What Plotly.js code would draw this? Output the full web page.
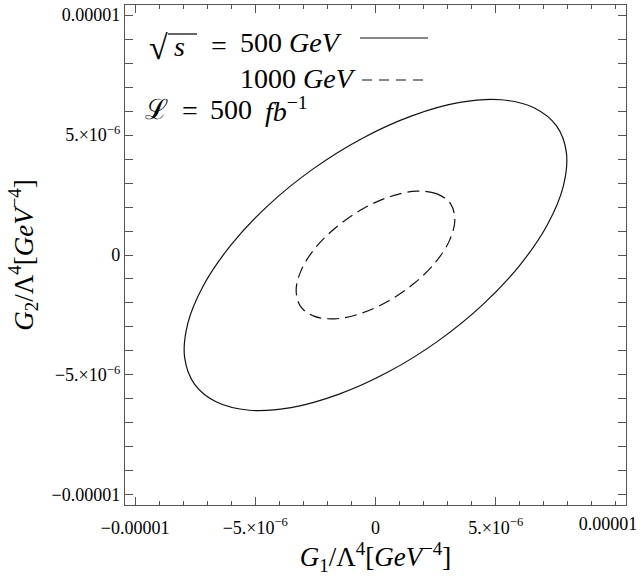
<!DOCTYPE html>
<html>
<head>
<meta charset="utf-8">
<script src="https://cdn.plot.ly/plotly-3.0.1.min.js"></script>
<style>html,body{margin:0;padding:0;background:#fff;}#chart{width:644px;height:576px;}</style>
</head>
<body>
<div id="chart"></div>
<script>
// Contour for sqrt(s) = 500 GeV (units of 1e-6 GeV^-4)
const g1_500 = [7.53, 6.61, 5.24, 3.51, 1.54, -0.54, -2.58, -4.44, -6.00, -7.15, -7.81, -7.94, -7.53, -6.61, -5.24, -3.51, -1.54, 0.54, 2.58, 4.44, 6.00, 7.15, 7.81, 7.94, 7.53];
const g2_500 = [5.38, 6.13, 6.47, 6.36, 5.81, 4.87, 3.60, 2.09, 0.43, -1.26, -2.86, -4.27, -5.38, -6.13, -6.47, -6.36, -5.81, -4.87, -3.60, -2.09, -0.43, 1.26, 2.86, 4.27, 5.38];
// Contour for sqrt(s) = 1000 GeV
const g1_1000 = [3.12, 2.56, 1.70, 0.62, -0.52, -1.61, -2.50, -3.09, -3.30, -3.12, -2.56, -1.70, -0.62, 0.52, 1.61, 2.50, 3.09, 3.30, 3.12];
const g2_1000 = [2.14, 2.55, 2.66, 2.44, 1.93, 1.18, 0.30, -0.63, -1.47, -2.14, -2.55, -2.66, -2.44, -1.93, -1.18, -0.30, 0.63, 1.47, 2.14];
const scale = 1e-6;

const tickVals = [-1e-5, -5e-6, 0, 5e-6, 1e-5];
const tickText = ["\u22120.00001", "\u22125.\u00d710<sup>\u22126</sup>", "0", "5.\u00d710<sup>\u22126</sup>", "0.00001"];
const axisRange = [-1.042e-5, 1.042e-5];

const serif = "'Liberation Serif', 'Times New Roman', 'DejaVu Serif', serif";

const traces = [
  {x: g1_500.map(v => v*scale), y: g2_500.map(v => v*scale), mode: 'lines',
   line: {color: '#111', width: 1.2, shape: 'spline', smoothing: 1}, hoverinfo: 'skip', showlegend: false},
  {x: g1_1000.map(v => v*scale), y: g2_1000.map(v => v*scale), mode: 'lines',
   line: {color: '#111', width: 1.2, shape: 'spline', smoothing: 1, dash: '12px,6px'}, hoverinfo: 'skip', showlegend: false},
  // empty carrier so that the overlay axis holding the last x label is drawn
  {x: [], y: [], xaxis: 'x2', yaxis: 'y', mode: 'lines', hoverinfo: 'skip', showlegend: false}
];

const tickFont = {family: serif, size: 18, color: '#000'};
function axis(vals, text, titleText, standoff) {
  return {
    range: axisRange, autorange: false,
    tickmode: 'array', tickvals: vals, ticktext: text,
    ticks: 'inside', ticklen: 8, tickwidth: 1, tickcolor: '#555',
    minor: {tickmode: 'linear', tick0: 0, dtick: 1e-6, ticks: 'inside', ticklen: 4, tickwidth: 1, tickcolor: '#555'},
    showline: true, linecolor: '#555', linewidth: 1.2, mirror: 'allticks',
    showgrid: false, zeroline: false, ticklabeloverflow: 'allow',
    tickfont: tickFont,
    title: {text: titleText, font: {family: serif, size: 27, color: '#000'}, standoff: standoff},
    automargin: false
  };
}

const px = (p) => (p - 125) / 501;
const py = (p) => (505 - p) / 500;
const legFont = {family: serif, size: 28, color: '#000'};
function note(x, y, text, font) {
  return {xref: 'paper', yref: 'paper', x: px(x), y: py(y), xanchor: 'left', yanchor: 'middle', showarrow: false, text: text, font: font || legFont};
}

const layout = {
  width: 644, height: 576,
  margin: {l: 125, r: 18, t: 5, b: 71},
  paper_bgcolor: '#fff', plot_bgcolor: '#fff',
  showlegend: false,
  xaxis: Object.assign(axis(tickVals.slice(0, 4), tickText.slice(0, 4), '\u00a0\u00a0\u00a0<i>G</i><sub>1</sub>/\u039b<sup>4</sup>[<i>GeV</i><sup>\u22124</sup>]', 4), {ticklabelstandoff: 6}),
  // last x tick label sits pulled inwards, as in the reference
  xaxis2: {overlaying: 'x', anchor: 'y', side: 'bottom', range: axisRange, autorange: false,
    tickmode: 'array', tickvals: tickVals.slice(4), ticktext: tickText.slice(4),
    ticks: '', showline: false, showgrid: false, zeroline: false, ticklabelstandoff: 6, ticklabelshift: -8,
    ticklabeloverflow: 'allow', tickfont: tickFont},
  yaxis: Object.assign(axis(tickVals, tickText, '<i>G</i><sub>2</sub>/\u039b<sup>4</sup>[<i>GeV</i><sup>\u22124</sup>]', 10), {ticklabelstandoff: 0}),
  annotations: [
    note(147, 48, '\u221a', {family: serif, size: 34, color: '#000'}),
    note(172, 47, '<i>s</i>'),
    note(209, 46, '='),
    note(238, 43, '500 <i>GeV</i>'),
    note(238, 78, '1000 <i>GeV</i>'),
    note(143, 110, '\u2112'),
    note(180, 111, '='),
    note(208, 110, '500'),
    note(263, 110, '<i>fb</i><sup>\u22121</sup>')
  ],
  shapes: [
    {type: 'line', xref: 'paper', yref: 'paper', x0: px(360), x1: px(428), y0: py(38), y1: py(38), line: {color: '#111', width: 1.2}},
    {type: 'line', xref: 'paper', yref: 'paper', x0: px(362), x1: px(428), y0: py(80), y1: py(80), line: {color: '#111', width: 1.2, dash: '10px,7px'}},
    {type: 'line', xref: 'paper', yref: 'paper', x0: px(168), x1: px(197), y0: py(34), y1: py(34), line: {color: '#111', width: 1.3}}
  ]
};

Plotly.newPlot('chart', traces, layout, {staticPlot: true, displayModeBar: false});
</script>
</body>
</html>
